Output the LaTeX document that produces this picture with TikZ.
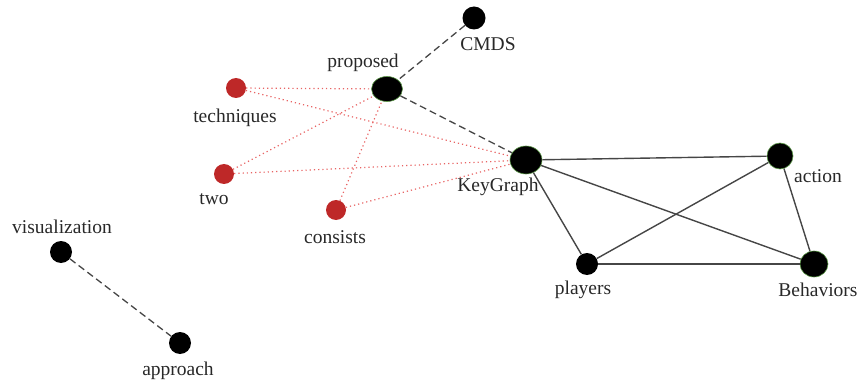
\documentclass[tikz,border=0pt]{standalone}
\usepackage{fontspec}
\setmainfont{Liberation Serif}
\usetikzlibrary{shapes.geometric}
\definecolor{nodered}{RGB}{190,40,40}
\definecolor{edgered}{RGB}{232,100,100}
\definecolor{edgegray}{RGB}{70,70,70}
\definecolor{rimgreen}{RGB}{90,150,70}
\definecolor{labelgray}{RGB}{40,40,40}
\begin{document}
\begin{tikzpicture}[x=1pt,y=-1pt,
  blk/.style={circle,fill=black,inner sep=0pt,minimum size=22pt},
  rim/.style={ellipse,fill=black,draw=rimgreen,line width=0.6pt,inner sep=0pt},
  rednode/.style={circle,fill=nodered,inner sep=0pt,minimum size=20pt},
  lbl/.style={font=\fontsize{19.5}{21}\selectfont,text=labelgray,inner sep=0pt},
  dashline/.style={draw=edgegray,dash pattern=on 7pt off 4pt,line width=1.3pt},
  dotr/.style={draw=edgered,dash pattern=on 1.2pt off 3pt,line width=1.2pt},
  sol/.style={draw=edgegray,line width=1.4pt}]
\useasboundingbox (0,0) rectangle (860,385);
% nodes
\node[blk,minimum size=23pt] (cmds) at (474,18) {};
\node[rim,minimum width=31pt,minimum height=25pt] (prop) at (387,89) {};
\node[rednode] (tech) at (236,88) {};
\node[rednode] (two) at (224,174) {};
\node[rednode] (cons) at (336,210) {};
\node[rim,minimum width=32pt,minimum height=28pt] (kg) at (526,160) {};
\node[rim,minimum width=26pt,minimum height=26pt] (act) at (780,156) {};
\node[blk] (play) at (587,264) {};
\node[rim,minimum width=28pt,minimum height=26pt] (beh) at (814,264) {};
\node[blk] (vis) at (61,252) {};
\node[blk] (appr) at (180,343) {};
% labels
\node[lbl] (lcmds) at (488,44) {CMDS};
\node[lbl] (lprop) at (363,63) {proposed};
\node[lbl] (ltech) at (235,118) {techniques};
\node[lbl] (ltwo) at (214,199) {two};
\node[lbl] (lcons) at (335,237) {consists};
\node[lbl] (lkg) at (498,187) {KeyGraph};
\node[lbl] (lact) at (818,176) {action};
\node[lbl] (lplay) at (583,290) {players};
\node[lbl] (lbeh) at (818,290) {Behaviors};
\node[lbl] (lvis) at (62,227) {visualization};
\node[lbl] (lappr) at (178,371) {approach};
% edges
\draw[dashline] (cmds) -- (prop);
\draw[dashline] (prop) -- (kg);
\draw[dashline] (vis) -- (appr);
\draw[dotr] (tech) -- (prop);
\draw[dotr] (tech) -- (kg);
\draw[dotr] (two) -- (prop);
\draw[dotr] (two) -- (kg);
\draw[dotr] (cons) -- (prop);
\draw[dotr] (cons) -- (kg);
\draw[sol] (kg) -- (act);
\draw[sol] (kg) -- (beh);
\draw[sol] (kg) -- (play);
\draw[sol] (play) -- (act);
\draw[sol] (play) -- (beh);
\draw[sol] (act) -- (beh);
\end{tikzpicture}
\end{document}
